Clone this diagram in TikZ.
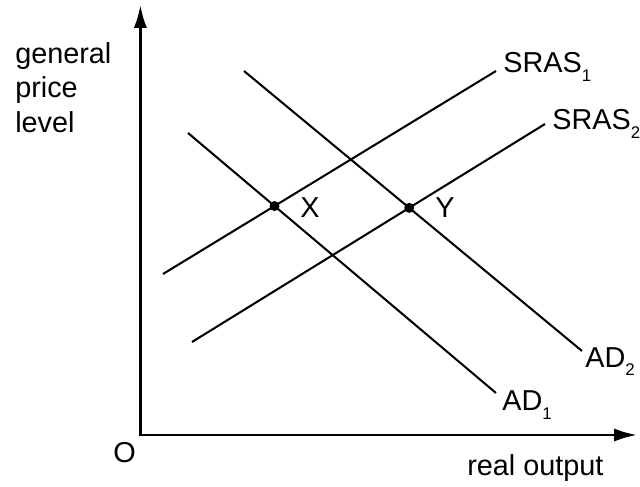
\documentclass[tikz,border=0pt]{standalone}
\usepackage{fontspec}
\setmainfont{Liberation Sans}
\usetikzlibrary{arrows.meta,calc}
\newcommand{\lowsub}[1]{\raisebox{-6.4pt}{\fontsize{12pt}{14pt}\selectfont #1}}

\begin{document}
\begin{tikzpicture}[
  curve/.style={line width=1.45pt},
  axis/.style={line width=1.9pt, {Latex[length=5.75mm,width=3.3mm]}-{Latex[length=5.75mm,width=3.3mm]}},
  lbl/.style={font=\fontsize{20.5pt}{24.5pt}\selectfont, inner sep=0pt},
  pt/.style={circle, fill=black, inner sep=0pt, minimum size=2.5mm}
]
\useasboundingbox (0,0) rectangle (16,12.15);

% axes
\coordinate (orig) at (3.51,1.275);
\coordinate (ytop) at (3.51,12.025);
\coordinate (xend) at (15.925,1.275);
\draw[axis] (ytop) -- (orig) -- (xend);

% supply and demand lines
\coordinate (s1a) at (4.075,5.3);
\coordinate (s1b) at (12.4,10.375);
\coordinate (s2a) at (4.8,3.6);
\coordinate (s2b) at (13.625,9.05);
\coordinate (d1a) at (4.7,8.825);
\coordinate (d1b) at (12.4,2.325);
\coordinate (d2a) at (6.1,10.375);
\coordinate (d2b) at (14.55,3.375);

\draw[curve] (s1a) -- (s1b);
\draw[curve] (s2a) -- (s2b);
\draw[curve] (d1a) -- (d1b);
\draw[curve] (d2a) -- (d2b);

% equilibrium points
\node[pt] (X) at (intersection of s1a--s1b and d1a--d1b) {};
\node[pt] (Y) at (intersection of s2a--s2b and d2a--d2b) {};

% labels
\node[lbl, anchor=base west] (s1lbl) at (12.575,10.325) {SRAS\lowsub{1}};
\node[lbl, anchor=base west] (s2lbl) at (13.8,8.9) {SRAS\lowsub{2}};
\node[lbl, anchor=base west] (d1lbl) at (12.55,1.9) {AD\lowsub{1}};
\node[lbl, anchor=base west] (d2lbl) at (14.625,2.975) {AD\lowsub{2}};
\node[lbl, anchor=base west] (xlbl) at (7.5,6.7) {X};
\node[lbl, anchor=base west] (ylbl) at (10.875,6.7) {Y};
\node[lbl, anchor=base west] (olbl) at (2.825,0.6) {O};
\node[lbl, anchor=base west] (xaxlbl) at (11.675,0.275) {real output};
\node[lbl, anchor=north west, align=left] (yaxlbl) at (0.375,11.1) {general\\price\\level};

\end{tikzpicture}
\end{document}
